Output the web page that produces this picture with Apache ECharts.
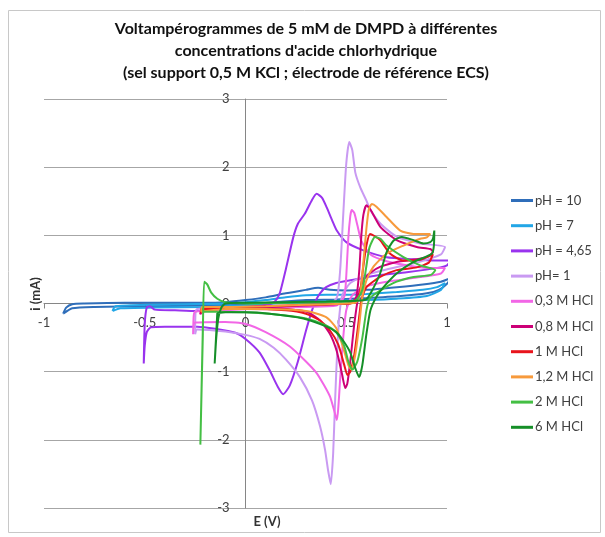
<!DOCTYPE html>
<html>
<head>
<meta charset="utf-8">
<script src="https://cdn.jsdelivr.net/npm/echarts@6/dist/echarts.min.js"></script>
<style>html,body{margin:0;padding:0;background:#fff}#c{width:605px;height:537px}</style>
</head>
<body>
<div id="c"></div>
<script>
const seriesNames = ['pH = 10','pH = 7','pH = 4,65','pH= 1','0,3 M HCl','0,8 M HCl','1 M HCl','1,2 M HCl','2 M HCl','6 M HCl'];
const seriesColors = ['#2F6EBA','#22A6E6','#9933EE','#C99AF2','#F266E6','#CC0077','#E8141C','#F79A3C','#44BF44','#158F28'];
const xTicks = [-1,-0.5,0,0.5,1];
const yTicks = [-3,-2,-1,0,1,2,3];

const ph10 = [[-0.905,-0.15],[-0.89,-0.06],[-0.86,-0.01],[-0.8,0.0],[-0.6,0.01],[-0.4,0.01],[-0.2,0.01],[-0.1,0.02],[0,0.05],[0.1,0.09],[0.2,0.15],[0.3,0.2],[0.36,0.23],[0.42,0.2],[0.5,0.19],[0.6,0.2],[0.75,0.24],[0.88,0.28],[0.97,0.32],[1.02,0.375],
 [1.0,0.29],[0.96,0.2],[0.9,0.15],[0.77,0.11],[0.6,0.08],[0.45,0.06],[0.3,0.05],[0.15,0.02],[0,-0.01],[-0.2,-0.03],[-0.5,-0.04],[-0.75,-0.05],[-0.86,-0.07],[-0.905,-0.15]];
const ph7 = [[-0.66,-0.11],[-0.645,-0.04],[-0.5,-0.02],[-0.3,-0.01],[-0.1,0.0],[0,0.02],[0.1,0.05],[0.2,0.09],[0.3,0.12],[0.4,0.13],[0.5,0.13],[0.6,0.14],[0.75,0.17],[0.88,0.2],[0.95,0.24],[0.99,0.3],
 [0.97,0.2],[0.9,0.11],[0.75,0.07],[0.6,0.05],[0.45,0.04],[0.3,0.02],[0.15,0.0],[0,-0.03],[-0.2,-0.05],[-0.45,-0.06],[-0.62,-0.07],[-0.66,-0.11]];
const ph465 = [[-0.505,-0.88],[-0.5,-0.3],[-0.49,-0.06],[-0.475,-0.04],[-0.45,-0.09],[-0.35,-0.1],[-0.24,-0.11],[-0.1,-0.09],[0,-0.06],[0.08,-0.03],[0.12,-0.01],[0.146,0.03],[0.17,0.15],[0.2,0.5],[0.237,0.97],[0.26,1.17],[0.295,1.32],[0.33,1.52],[0.353,1.61],[0.38,1.55],[0.403,1.41],[0.43,1.22],[0.453,1.07],[0.5,0.9],[0.585,0.78],[0.7,0.68],[0.834,0.65],[0.95,0.63],[1.02,0.63],
 [1.0,0.56],[0.967,0.53],[0.8,0.46],[0.65,0.41],[0.52,0.34],[0.45,0.3],[0.4,0.24],[0.37,0.15],[0.35,0.05],[0.33,-0.1],[0.3,-0.4],[0.26,-0.85],[0.22,-1.2],[0.187,-1.33],[0.16,-1.22],[0.12,-0.98],[0.07,-0.72],[0.0,-0.52],[-0.05,-0.43],[-0.15,-0.37],[-0.24,-0.34],[-0.4,-0.34],[-0.47,-0.35],[-0.49,-0.42],[-0.5,-0.62],[-0.505,-0.88]];
const ph1 = [[-0.25,-0.45],[-0.248,-0.14],[-0.24,-0.08],[-0.1,-0.07],[0.1,-0.05],[0.3,-0.04],[0.42,-0.02],[0.455,0.1],[0.47,0.5],[0.485,1.3],[0.5,2.05],[0.515,2.37],[0.53,2.25],[0.545,1.92],[0.57,1.7],[0.6,1.51],[0.62,1.37],[0.67,1.17],[0.75,0.98],[0.867,0.88],[0.99,0.83],
 [0.97,0.72],[0.85,0.6],[0.7,0.5],[0.6,0.42],[0.52,0.3],[0.48,0.12],[0.465,-0.2],[0.455,-0.7],[0.445,-1.4],[0.435,-2.2],[0.423,-2.65],[0.41,-2.45],[0.395,-2.15],[0.37,-1.8],[0.33,-1.42],[0.27,-1.08],[0.2,-0.82],[0.14,-0.65],[0.07,-0.52],[0,-0.46],[-0.1,-0.41],[-0.24,-0.38],[-0.25,-0.45]];
const hcl03 = [[-0.26,-0.45],[-0.257,-0.18],[-0.25,-0.12],[-0.1,-0.1],[0.1,-0.07],[0.3,-0.05],[0.45,-0.03],[0.49,0.1],[0.5,0.4],[0.51,0.95],[0.52,1.28],[0.527,1.37],[0.54,1.33],[0.555,1.15],[0.575,0.92],[0.62,0.72],[0.7,0.62],[0.8,0.56],[0.9,0.52],[0.99,0.52],
 [0.97,0.44],[0.85,0.38],[0.7,0.32],[0.6,0.25],[0.53,0.12],[0.5,-0.1],[0.485,-0.5],[0.47,-1.1],[0.46,-1.55],[0.453,-1.71],[0.44,-1.57],[0.42,-1.37],[0.39,-1.2],[0.353,-1.02],[0.3,-0.85],[0.22,-0.63],[0.1,-0.42],[0,-0.3],[-0.1,-0.27],[-0.25,-0.28],[-0.26,-0.45]];
const hcl08 = [[-0.225,-0.16],[-0.215,-0.07],[-0.1,-0.06],[0.1,-0.05],[0.3,-0.03],[0.45,-0.01],[0.52,0.0],[0.55,0.1],[0.565,0.5],[0.575,1.0],[0.585,1.3],[0.6,1.44],[0.62,1.38],[0.67,1.12],[0.75,0.93],[0.85,0.83],[0.917,0.8],[0.93,0.76],
 [0.9,0.68],[0.8,0.63],[0.75,0.61],[0.67,0.54],[0.62,0.45],[0.585,0.34],[0.56,0.1],[0.54,-0.3],[0.52,-0.85],[0.505,-1.18],[0.495,-1.24],[0.48,-1.05],[0.453,-0.7],[0.42,-0.45],[0.37,-0.25],[0.303,-0.12],[0.15,-0.07],[0,-0.06],[-0.2,-0.07],[-0.225,-0.16]];
const hcl1 = [[-0.22,-0.14],[-0.215,-0.06],[-0.1,-0.06],[0.1,-0.04],[0.3,-0.02],[0.5,0.0],[0.55,0.02],[0.57,0.2],[0.585,0.55],[0.6,0.85],[0.618,1.02],[0.64,0.99],[0.668,0.93],[0.718,0.73],[0.784,0.63],[0.867,0.64],[0.93,0.72],
 [0.91,0.6],[0.85,0.53],[0.75,0.49],[0.668,0.39],[0.6,0.24],[0.575,0.05],[0.56,-0.3],[0.54,-0.75],[0.52,-1.0],[0.506,-1.05],[0.49,-0.9],[0.46,-0.6],[0.42,-0.4],[0.37,-0.25],[0.3,-0.15],[0.2,-0.1],[0,-0.08],[-0.2,-0.08],[-0.22,-0.14]];
const hcl12 = [[-0.22,-0.12],[-0.215,-0.05],[-0.1,-0.05],[0.1,-0.04],[0.3,-0.02],[0.5,0.0],[0.55,0.02],[0.57,0.15],[0.585,0.6],[0.6,1.1],[0.612,1.38],[0.627,1.46],[0.65,1.42],[0.7,1.27],[0.768,1.07],[0.834,1.02],[0.917,1.02],
 [0.9,0.97],[0.867,0.95],[0.784,0.85],[0.7,0.73],[0.635,0.54],[0.6,0.34],[0.58,0.1],[0.565,-0.3],[0.545,-0.75],[0.525,-0.97],[0.51,-0.9],[0.485,-0.65],[0.45,-0.36],[0.4,-0.2],[0.3,-0.11],[0.1,-0.08],[-0.1,-0.08],[-0.22,-0.12]];
const hcl2 = [[-0.21,-0.12],[-0.224,-2.07],[-0.212,-0.5],[-0.205,0.32],[-0.19,0.28],[-0.17,0.16],[-0.14,0.07],[-0.1,0.02],[0,0.0],[0.2,0.01],[0.4,0.02],[0.5,0.03],[0.55,0.05],[0.58,0.2],[0.6,0.55],[0.615,0.82],[0.643,0.975],[0.67,0.95],[0.7,0.85],[0.784,0.68],[0.867,0.56],[0.942,0.49],
 [0.92,0.42],[0.834,0.39],[0.75,0.32],[0.668,0.19],[0.618,0.08],[0.6,-0.1],[0.58,-0.5],[0.555,-0.85],[0.53,-0.97],[0.51,-0.85],[0.49,-0.62],[0.45,-0.42],[0.4,-0.32],[0.3,-0.22],[0.15,-0.16],[0,-0.13],[-0.15,-0.12],[-0.21,-0.12]];
const hcl6 = [[-0.14,-0.14],[-0.153,-0.88],[-0.145,-0.5],[-0.135,-0.22],[-0.12,-0.06],[-0.1,0.0],[0,0.01],[0.2,0.02],[0.4,0.03],[0.55,0.04],[0.6,0.06],[0.63,0.2],[0.668,0.44],[0.7,0.75],[0.734,0.92],[0.776,0.975],[0.834,0.93],[0.884,0.88],[0.917,0.9],[0.93,0.95],[0.937,1.07],
 [0.935,0.85],[0.925,0.73],[0.834,0.61],[0.75,0.44],[0.685,0.24],[0.65,0.1],[0.62,-0.1],[0.6,-0.45],[0.58,-0.9],[0.564,-1.08],[0.545,-0.95],[0.52,-0.72],[0.486,-0.55],[0.45,-0.42],[0.403,-0.34],[0.287,-0.22],[0.12,-0.15],[0,-0.13],[-0.1,-0.13],[-0.14,-0.14]];

const allData = [ph10, ph7, ph465, ph1, hcl03, hcl08, hcl1, hcl12, hcl2, hcl6];

const FONT = 'Lato, "Open Sans", sans-serif';
const W = 605, H = 537;
const G = {left: 44, right: 158, top: 99, bottom: 29};
const xMin = xTicks[0], xMax = xTicks[xTicks.length-1];
const yMin = yTicks[0], yMax = yTicks[yTicks.length-1];
// axes cross at zero: shift each axis from its grid edge to the other axis's zero
const gw = W - G.left - G.right, gh = H - G.top - G.bottom;
const yAxisOffset = -gw * (0 - xMin) / (xMax - xMin);
const xAxisOffset = -gh * (0 - yMin) / (yMax - yMin);

const chart = echarts.init(document.getElementById('c'), null, {renderer: 'canvas'});
chart.setOption({
  animation: false,
  backgroundColor: '#fff',
  title: {
    text: 'Voltampérogrammes de 5 mM de DMPD à différentes\nconcentrations d\'acide chlorhydrique\n(sel support 0,5 M KCl ; électrode de référence ECS)',
    left: 306, top: 18, textAlign: 'center', padding: 0,
    textStyle: {fontFamily: FONT, fontSize: 16, fontWeight: 'bold', color: '#111', lineHeight: 22}
  },
  grid: {left: G.left, right: G.right, top: G.top, bottom: G.bottom, containLabel: false},
  legend: {
    orient: 'vertical', left: 511, top: 194, padding: 0,
    itemWidth: 22, itemHeight: 3, itemGap: 12.2, icon: 'rect',
    textStyle: {fontFamily: FONT, fontSize: 13, color: '#404040', padding: [0,0,0,-3]},
    data: seriesNames
  },
  xAxis: {
    type: 'value', min: xMin, max: xMax, interval: 0.5, position: 'bottom', offset: xAxisOffset,
    axisLine: {show: true, onZero: false, lineStyle: {color: '#868686', width: 1}},
    axisTick: {show: true, length: 5, lineStyle: {color: '#868686'}},
    axisLabel: {margin: 13, fontFamily: FONT, fontSize: 13, color: '#404040'},
    splitLine: {show: false}
  },
  yAxis: {
    type: 'value', min: yMin, max: yMax, interval: 1, position: 'left', offset: yAxisOffset,
    axisLine: {show: true, onZero: false, lineStyle: {color: '#868686', width: 1}},
    axisTick: {show: false},
    axisLabel: {margin: 16, fontFamily: FONT, fontSize: 13, color: '#404040'},
    splitLine: {show: true, lineStyle: {color: '#a6a6a6', width: 1}}
  },
  graphic: [
    {type: 'rect', shape: {x: 8.5, y: 10.5, width: 592, height: 522}, style: {fill: 'none', stroke: '#c8c8c8', lineWidth: 1}, z: -1},
    {type: 'text', x: 36, y: 294, rotation: Math.PI/2, style: {text: 'i (mA)', font: 'bold 13px ' + FONT, fill: '#333', textAlign: 'center', textVerticalAlign: 'middle'}},
    {type: 'text', x: 267, y: 522, style: {text: 'E (V)', font: 'bold 13px ' + FONT, fill: '#333', textAlign: 'center', textVerticalAlign: 'middle'}}
  ],
  series: seriesNames.map((n, i) => ({
    name: n, type: 'line', data: allData[i], showSymbol: false, symbol: 'none',
    smooth: 0.2, clip: false,
    lineStyle: {width: 2, color: seriesColors[i]}, itemStyle: {color: seriesColors[i]}
  }))
});
</script>
</body>
</html>
